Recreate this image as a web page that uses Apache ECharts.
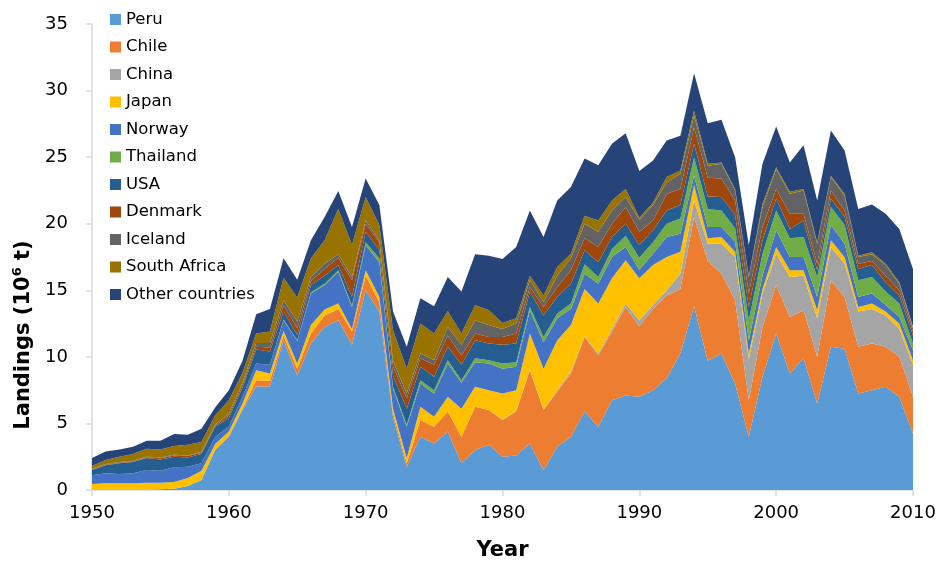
<!DOCTYPE html>
<html>
<head>
<meta charset="utf-8">
<title>Landings by country, 1950–2010</title>
<script src="https://cdn.jsdelivr.net/npm/echarts@6/dist/echarts.min.js"></script>
<style>
  html, body { margin: 0; padding: 0; background: #ffffff; }
  #chart { width: 940px; height: 567px; }
</style>
</head>
<body>
<div id="chart"></div>
<script>
// Years on the horizontal axis
const years = [];
for (let y = 1950; y <= 2010; y++) years.push(String(y));

// Annual landings per country (10^6 t), 1950..2010
const peru = [
  0, 0, 0, 0, 0, 0.05, 0.1, 0.3, 0.75, 3.0,
  4.0, 6.0, 7.8, 7.75, 11.25, 8.6, 11.0, 12.25, 12.75, 10.9,
  15.0, 13.4, 5.5, 1.75, 4.0, 3.5, 4.4, 2.0, 3.0, 3.4,
  2.5, 2.6, 3.5, 1.5, 3.25, 4.0, 5.9, 4.75, 6.75, 7.1,
  7.0, 7.5, 8.4, 10.25, 13.8, 9.7, 10.25, 8.0, 4.0, 8.5,
  11.75, 8.75, 9.9, 6.5, 10.75, 10.6, 7.25, 7.5, 7.75, 7.0, 4.25
];
const chile = [
  0, 0, 0, 0, 0, 0, 0, 0, 0, 0,
  0.05, 0.1, 0.45, 0.45, 0.35, 0.5, 0.75, 0.85, 0.85, 1.0,
  1.1, 0.7, 0.3, 0.25, 1.25, 1.25, 1.5, 2.0, 3.25, 2.6,
  2.75, 3.3, 5.5, 4.5, 4.15, 4.75, 5.6, 5.35, 5.15, 6.65,
  5.3, 6.1, 6.2, 4.85, 6.7, 7.5, 6.0, 6.25, 2.75, 3.75,
  3.65, 4.25, 3.6, 3.5, 5.0, 3.9, 3.5, 3.5, 3.0, 3.0, 2.75
];
const china = [
  0, 0, 0, 0, 0, 0, 0, 0, 0, 0,
  0, 0, 0, 0, 0, 0, 0, 0, 0, 0,
  0, 0, 0, 0, 0, 0, 0, 0, 0, 0,
  0.05, 0.05, 0.05, 0.05, 0.1, 0.15, 0.05, 0.15, 0.2, 0.25,
  0.45, 0.3, 0.4, 1.15, 1.25, 1.3, 2.25, 3.25, 3.1, 2.5,
  2.35, 3.0, 2.6, 2.9, 2.5, 2.5, 2.65, 2.6, 2.35, 2.1, 2.4
];
const japan = [
  0.45, 0.5, 0.5, 0.5, 0.55, 0.5, 0.5, 0.6, 0.7, 0.45,
  0.35, 0.4, 0.75, 0.55, 0.35, 0.4, 0.65, 0.45, 0.4, 0.2,
  0.4, 0.4, 0.3, 0.4, 1.0, 0.75, 1.1, 2.1, 1.5, 1.5,
  1.95, 1.55, 2.7, 3.05, 3.75, 3.5, 3.55, 3.75, 3.8, 3.25,
  3.15, 3.0, 2.5, 1.65, 1.15, 0.4, 0.5, 0.4, 0.4, 0.35,
  0.5, 0.5, 0.4, 0.6, 0.5, 0.5, 0.35, 0.4, 0.3, 0.4, 0.35
];
const norway = [
  0.65, 0.75, 0.7, 0.75, 0.95, 0.9, 1.1, 0.85, 0.55, 0.55,
  0.35, 0.5, 0.5, 0.65, 0.8, 1.7, 2.35, 1.85, 2.4, 1.65,
  1.9, 2.6, 1.5, 2.35, 1.75, 1.75, 2.5, 1.95, 1.85, 2.0,
  1.85, 1.75, 1.75, 2.0, 1.65, 1.2, 1.15, 1.5, 1.6, 1.0,
  0.65, 0.85, 1.5, 1.35, 0.7, 0.85, 0.75, 0.75, 1.0, 1.0,
  1.25, 1.0, 1.0, 1.0, 1.15, 1.0, 0.75, 0.75, 0.5, 0.5, 0.75
];
const thailand = [
  0, 0, 0, 0, 0, 0, 0, 0, 0, 0,
  0, 0, 0, 0, 0.05, 0.05, 0.1, 0.1, 0.1, 0.1,
  0.2, 0.3, 0.15, 0.15, 0.25, 0.25, 0.25, 0.2, 0.3, 0.25,
  0.4, 0.35, 0.25, 0.4, 0.35, 0.4, 0.7, 0.5, 0.6, 0.85,
  0.9, 0.85, 1.0, 1.15, 1.4, 1.35, 1.25, 1.0, 1.5, 1.65,
  1.5, 1.4, 1.5, 1.5, 1.35, 1.4, 1.25, 1.25, 1.0, 1.0, 0.5
];
const usa = [
  0.4, 0.6, 0.8, 0.85, 0.9, 0.85, 0.8, 0.7, 0.7, 0.75,
  0.65, 0.7, 1.05, 1.0, 0.6, 0.4, 0.55, 0.6, 0.4, 0.65,
  0.8, 0.6, 0.85, 1.2, 1.0, 1.0, 1.0, 1.15, 1.35, 1.25,
  1.4, 1.4, 1.15, 1.6, 1.25, 1.5, 1.05, 1.1, 0.9, 0.9,
  0.95, 0.9, 1.0, 1.0, 1.0, 0.95, 1.0, 1.0, 1.0, 1.0,
  0.9, 0.7, 1.25, 0.5, 0.65, 0.6, 0.85, 0.9, 0.7, 0.6, 0.6
];
const denmark = [
  0.05, 0.05, 0.05, 0.05, 0.05, 0.08, 0.1, 0.1, 0.1, 0.1,
  0.2, 0.2, 0.2, 0.3, 0.45, 0.5, 0.3, 0.5, 0.55, 1.25,
  0.6, 0.6, 0.7, 0.8, 0.65, 0.9, 0.85, 0.7, 0.5, 0.5,
  0.6, 0.75, 0.35, 0.65, 0.75, 1.0, 0.9, 1.15, 1.0, 1.25,
  1.0, 0.75, 1.25, 1.2, 1.25, 1.4, 1.4, 1.1, 1.0, 1.0,
  0.7, 1.15, 0.5, 0.5, 0.6, 0.5, 0.4, 0.3, 0.5, 0.4, 0.3
];
const iceland = [
  0.05, 0.05, 0.05, 0.05, 0.05, 0.07, 0.05, 0.05, 0.05, 0.05,
  0.15, 0.15, 0.3, 0.35, 0.4, 0.5, 0.3, 0.4, 0.25, 0.25,
  0.25, 0.15, 0.4, 0.35, 0.35, 0.35, 0.65, 0.8, 1.0, 0.9,
  0.6, 0.75, 0.5, 0.35, 0.85, 0.9, 1.1, 1.15, 1.0, 0.75,
  0.9, 1.15, 0.85, 1.15, 0.85, 0.9, 1.1, 0.75, 1.25, 1.5,
  1.5, 1.5, 1.75, 1.5, 1.0, 1.1, 0.5, 0.5, 0.8, 0.5, 0.25
];
const southAfrica = [
  0.2, 0.3, 0.4, 0.5, 0.6, 0.6, 0.65, 0.8, 0.75, 0.7,
  1.0, 0.75, 0.7, 0.85, 1.7, 1.8, 1.4, 1.75, 3.4, 2.4,
  1.75, 1.15, 2.3, 1.85, 2.25, 2.0, 1.2, 0.85, 1.15, 1.1,
  0.45, 0.4, 0.35, 0.5, 0.65, 0.35, 0.6, 0.85, 0.75, 0.6,
  0.15, 0.2, 0.4, 0.25, 0.4, 0.15, 0.1, 0.1, 0.1, 0.25,
  0.15, 0.15, 0.1, 0.1, 0.1, 0.15, 0.1, 0.15, 0.1, 0.1, 0.1
];
const otherCountries = [
  0.6, 0.65, 0.55, 0.55, 0.6, 0.65, 0.9, 0.75, 1.0, 0.6,
  0.75, 0.9, 1.45, 1.7, 1.45, 1.35, 1.35, 1.75, 1.35, 1.35,
  1.4, 1.5, 1.4, 1.65, 1.9, 2.05, 2.55, 3.15, 3.8, 4.1,
  4.8, 5.35, 4.9, 4.4, 5.0, 5.0, 4.3, 4.15, 4.25, 4.2,
  3.5, 3.15, 2.75, 2.6, 2.8, 3.05, 3.2, 2.4, 2.3, 3.0,
  3.05, 2.2, 3.3, 3.15, 3.4, 3.25, 3.5, 3.6, 3.75, 4.0, 4.35
];

// Stack order, bottom to top
const seriesNames = ['Peru', 'Chile', 'China', 'Japan', 'Norway', 'Thailand',
  'USA', 'Denmark', 'Iceland', 'South Africa', 'Other countries'];
const seriesData = [peru, chile, china, japan, norway, thailand,
  usa, denmark, iceland, southAfrica, otherCountries];
const seriesColors = ['#5B9BD5', '#ED7D31', '#A5A5A5', '#FFC000', '#4472C4', '#70AD47',
  '#255E91', '#9E480E', '#636363', '#997300', '#264478'];

const yTicks = { min: 0, max: 35, step: 5 };

const FONT = 'DejaVu Sans';

const chart = echarts.init(document.getElementById('chart'), null, { renderer: 'canvas' });

chart.setOption({
  backgroundColor: '#ffffff',
  animation: false,
  color: seriesColors,
  textStyle: { fontFamily: FONT },
  legend: {
    orient: 'vertical',
    left: 105,
    top: 6,
    itemWidth: 11,
    itemHeight: 11,
    itemGap: 10.5,
    icon: 'rect',
    data: seriesNames,
    textStyle: { fontFamily: FONT, fontSize: 16.5, color: '#000', lineHeight: 17 }
  },
  grid: { left: 92, right: 27, top: 24, bottom: 77, containLabel: false },
  xAxis: {
    type: 'category',
    data: years,
    boundaryGap: false,
    name: 'Year',
    nameLocation: 'middle',
    nameGap: 50,
    nameTextStyle: { fontFamily: FONT, fontSize: 21, fontWeight: 'bold', color: '#000' },
    axisLine: { show: true, lineStyle: { color: '#D9D9D9', width: 1.5 } },
    axisTick: { show: true, interval: 9, length: 6, lineStyle: { color: '#D9D9D9', width: 1.5 } },
    axisLabel: { interval: 9, margin: 14, fontFamily: FONT, fontSize: 18, color: '#000' },
    splitLine: { show: false }
  },
  yAxis: {
    type: 'value',
    min: yTicks.min,
    max: yTicks.max,
    interval: yTicks.step,
    name: '{b|Landings (10}{sup|6}{b| t)}',
    nameLocation: 'middle',
    nameRotate: 90,
    nameGap: 50,
    nameTextStyle: {
      padding: [0, 156, 0, 0],
      rich: {
        b: { fontFamily: FONT, fontSize: 21, fontWeight: 'bold', color: '#000', lineHeight: 26 },
        sup: { fontFamily: FONT, fontSize: 13, fontWeight: 'bold', color: '#000', lineHeight: 14, verticalAlign: 'top' }
      }
    },
    axisLine: { show: true, lineStyle: { color: '#D9D9D9', width: 1.5 } },
    axisTick: { show: true, length: 6, lineStyle: { color: '#D9D9D9', width: 1.5 } },
    axisLabel: { margin: 24, fontFamily: FONT, fontSize: 18, color: '#000' },
    splitLine: { show: false }
  },
  series: seriesNames.map((name, i) => ({
    name: name,
    type: 'line',
    stack: 'landings',
    data: seriesData[i],
    showSymbol: false,
    symbol: 'none',
    smooth: false,
    lineStyle: { width: 0, color: seriesColors[i] },
    itemStyle: { color: seriesColors[i] },
    areaStyle: { color: seriesColors[i], opacity: 1 },
    emphasis: { disabled: true },
    z: 2
  }))
});
</script>
</body>
</html>
